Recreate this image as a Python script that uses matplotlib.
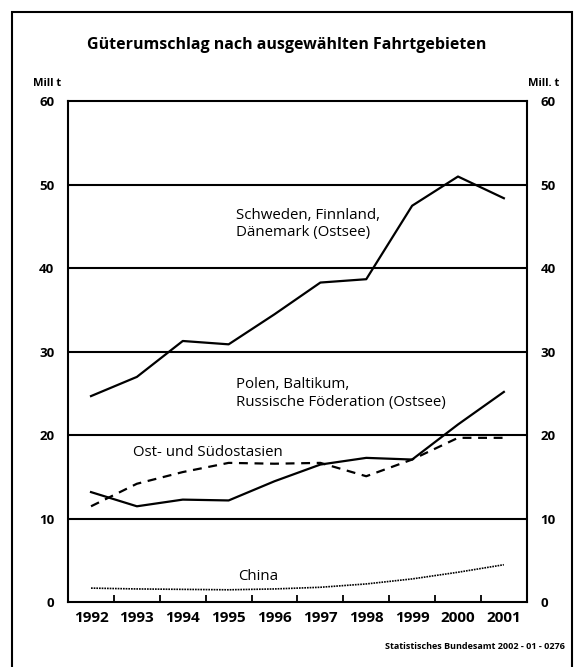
import matplotlib.pyplot as plt
from matplotlib.patches import Rectangle

plt.rcParams['font.family'] = ['Open Sans', 'DejaVu Sans']

# Daten (Mill. t)
years = ["1992", "1993", "1994", "1995", "1996", "1997", "1998", "1999", "2000", "2001"]
skandinavien = [24.7, 27.0, 31.3, 30.9, 34.5, 38.3, 38.7, 47.5, 51.0, 48.4]
polen_baltikum = [13.2, 11.5, 12.3, 12.2, 14.5, 16.5, 17.3, 17.1, 21.3, 25.2]
ostasien = [11.5, 14.2, 15.6, 16.7, 16.6, 16.7, 15.1, 17.1, 19.7, 19.7]
china = [1.7, 1.6, 1.55, 1.5, 1.6, 1.8, 2.2, 2.8, 3.6, 4.5]
yticks = [0, 10, 20, 30, 40, 50, 60]

fig = plt.figure(figsize=(5.77, 6.67), dpi=100)
ax = fig.add_axes([0.118, 0.097, 0.795, 0.751])

x = range(len(years))
ax.plot(x, skandinavien, color='black', linewidth=1.6)
ax.plot(x, polen_baltikum, color='black', linewidth=1.6)
ax.plot(x, ostasien, color='black', linewidth=1.6, linestyle=(0, (4, 3)))
ax.plot(x, china, color='black', linewidth=1.2, linestyle=(0, (1, 0.6)))

for v in yticks[1:-1]:
    ax.axhline(v, color='black', linewidth=1.5, zorder=0)

ax.set_xlim(-0.5, len(years) - 0.5)
ax.set_ylim(0, 60)
for s in ax.spines.values():
    s.set_linewidth(1.5)

# Kategorien: Ticks an den Grenzen, Beschriftung in der Mitte
ax.set_xticks([i + 0.5 for i in range(len(years) - 1)])
ax.set_xticklabels([])
ax.set_xticks(list(x), minor=True)
ax.set_xticklabels(years, minor=True, fontsize=11, fontweight='bold')
ax.tick_params(axis='x', which='major', direction='in', length=5, width=1.3)
ax.tick_params(axis='x', which='minor', length=0, pad=6)

ax.set_yticks(yticks)
ax.set_yticklabels([str(v) for v in yticks], fontsize=9.5, fontweight='bold')
ax.tick_params(axis='y', length=0, pad=10, labelleft=True, labelright=True)

fs = 10.8
ax.text(3.15, 45.3, "Schweden, Finnland,\nDänemark (Ostsee)", fontsize=fs, va='center', linespacing=1.2)
ax.text(3.17, 25.0, "Polen, Baltikum,\nRussische Föderation (Ostsee)", fontsize=fs, va='center', linespacing=1.2)
ax.text(0.92, 17.9, "Ost- und Südostasien", fontsize=fs, va='center')
ax.text(3.65, 3.1, "China", fontsize=fs, va='center', ha='center')

fig.text(0.497, 0.932, "Güterumschlag nach ausgewählten Fahrtgebieten",
         fontsize=11.5, fontweight='bold', ha='center', va='center')
fig.text(0.082, 0.875, "Mill t", fontsize=8, fontweight='bold', ha='center', va='center')
fig.text(0.942, 0.875, "Mill. t", fontsize=8, fontweight='bold', ha='center', va='center')
fig.text(0.979, 0.03, "Statistisches Bundesamt 2002 - 01 - 0276", fontsize=6.5,
         fontweight='bold', ha='right', va='center')

# Rahmen
fig.patches.append(Rectangle((0.021, -0.05), 0.971, 1.032, transform=fig.transFigure,
                             fill=False, edgecolor='black', linewidth=1.5))

fig.savefig("out.png", dpi=100)
